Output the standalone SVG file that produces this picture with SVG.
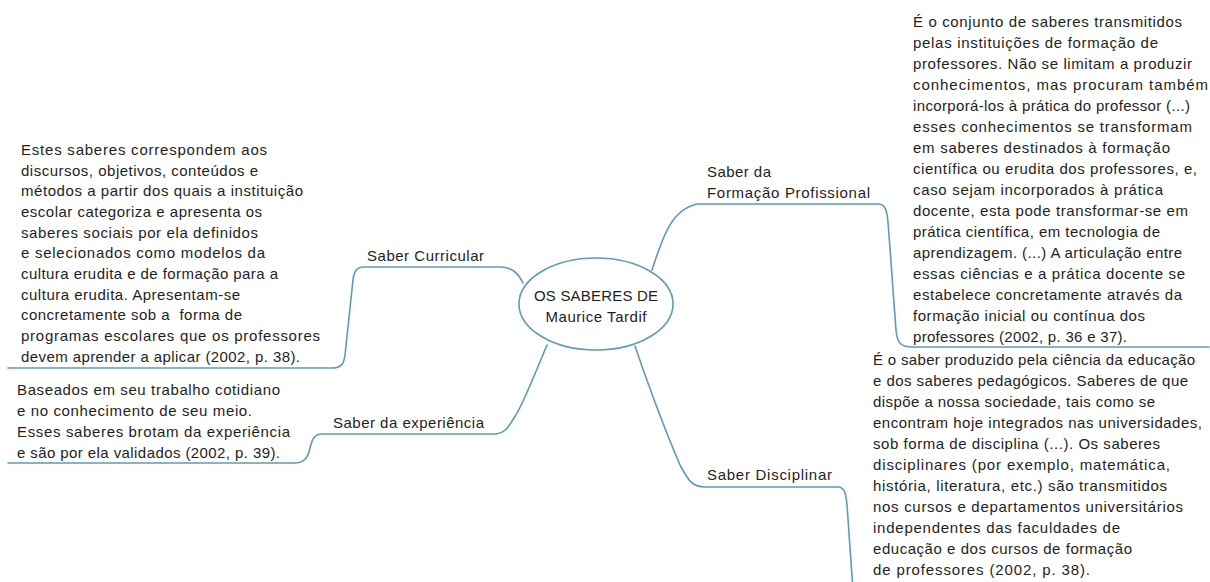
<svg xmlns="http://www.w3.org/2000/svg" width="1210" height="582" viewBox="0 0 1210 582">
<style>
  text { font-family: "Liberation Sans", Arial, sans-serif; font-size: 15px; fill: #1e1e1e; }
  .c { text-anchor: middle; }
  .link { fill: none; stroke: #5e9bb6; stroke-width: 1.6; stroke-linecap: round; }
  .hub { fill: #ffffff; stroke: #5e9bb6; stroke-width: 1.6; }
</style>
<rect width="1210" height="582" fill="#ffffff"/>
<g id="connectors">
  <path class="link" d="M 523 283 C 518 273 512 267 500 267 H 364 C 356 267 354 272 353 280 L 345 355 C 344 364 341 368 332 368 H 8"/>
  <path class="link" d="M 547 345 C 533 378 523 405 514 418 C 508 428 504 434 494 434 H 322 C 314 434 312 440 310 448 C 308 458 304 463 294 463 H 8"/>
  <path class="link" d="M 652 270 C 662 240 670 210 697 204 H 878 C 886 204 887 212 888 222 L 896 330 C 897 342 900 347 912 347 H 1209"/>
  <path class="link" d="M 635 346 C 650 390 665 430 680 465 C 688 480 692 487 705 487 H 838 C 845 487 846 495 847 505 L 853 590"/>
</g>
<g id="hub">
  <ellipse class="hub" cx="596" cy="304" rx="77" ry="46"/>
  <text class="c" x="596" y="301" textLength="124" lengthAdjust="spacing">OS SABERES DE</text>
  <text class="c" x="596" y="322" textLength="101" lengthAdjust="spacing">Maurice Tardif</text>
</g>
<g id="saber-curricular">
  <text x="367" y="261" textLength="117" lengthAdjust="spacing">Saber Curricular</text>
  <g id="curricular-desc">
    <text x="21" y="155" textLength="246" lengthAdjust="spacing">Estes saberes correspondem aos</text>
    <text x="21" y="176" textLength="237" lengthAdjust="spacing">discursos, objetivos, conteúdos e</text>
    <text x="21" y="196" textLength="282" lengthAdjust="spacing">métodos a partir dos quais a instituição</text>
    <text x="21" y="217" textLength="241" lengthAdjust="spacing">escolar categoriza e apresenta os</text>
    <text x="21" y="238" textLength="237" lengthAdjust="spacing">saberes sociais por ela definidos</text>
    <text x="21" y="258" textLength="244" lengthAdjust="spacing">e selecionados como modelos da</text>
    <text x="21" y="279" textLength="257" lengthAdjust="spacing">cultura erudita e de formação para a</text>
    <text x="21" y="300" textLength="219" lengthAdjust="spacing">cultura erudita. Apresentam-se</text>
    <text x="21" y="320" textLength="221" lengthAdjust="spacing" xml:space="preserve">concretamente sob a  forma de</text>
    <text x="21" y="341" textLength="299" lengthAdjust="spacing">programas escolares que os professores</text>
    <text x="21" y="362" textLength="279" lengthAdjust="spacing">devem aprender a aplicar (2002, p. 38).</text>
  </g>
</g>
<g id="saber-experiencia">
  <text x="333" y="428" textLength="151" lengthAdjust="spacing">Saber da experiência</text>
  <g id="experiencia-desc">
    <text x="17" y="395" textLength="263" lengthAdjust="spacing">Baseados em seu trabalho cotidiano</text>
    <text x="17" y="416" textLength="235" lengthAdjust="spacing">e no conhecimento de seu meio.</text>
    <text x="17" y="437" textLength="273" lengthAdjust="spacing">Esses saberes brotam da experiência</text>
    <text x="17" y="458" textLength="263" lengthAdjust="spacing">e são por ela validados (2002, p. 39).</text>
  </g>
</g>
<g id="saber-formacao">
  <text x="707" y="177" textLength="64" lengthAdjust="spacing">Saber da</text>
  <text x="707" y="198" textLength="163" lengthAdjust="spacing">Formação Profissional</text>
  <g id="formacao-desc">
    <text x="913" y="27" textLength="269" lengthAdjust="spacing">É o conjunto de saberes transmitidos</text>
    <text x="913" y="48" textLength="245" lengthAdjust="spacing">pelas instituições de formação de</text>
    <text x="913" y="69" textLength="279" lengthAdjust="spacing">professores. Não se limitam a produzir</text>
    <text x="913" y="90" textLength="295" lengthAdjust="spacing">conhecimentos, mas procuram também</text>
    <text x="913" y="111" textLength="277" lengthAdjust="spacing">incorporá-los à prática do professor (...)</text>
    <text x="913" y="132" textLength="279" lengthAdjust="spacing">esses conhecimentos se transformam</text>
    <text x="913" y="153" textLength="257" lengthAdjust="spacing">em saberes destinados à formação</text>
    <text x="913" y="174" textLength="284" lengthAdjust="spacing">científica ou erudita dos professores, e,</text>
    <text x="913" y="195" textLength="250" lengthAdjust="spacing">caso sejam incorporados à prática</text>
    <text x="913" y="216" textLength="275" lengthAdjust="spacing">docente, esta pode transformar-se em</text>
    <text x="913" y="237" textLength="247" lengthAdjust="spacing">prática científica, em tecnologia de</text>
    <text x="913" y="258" textLength="269" lengthAdjust="spacing">aprendizagem. (...) A articulação entre</text>
    <text x="913" y="279" textLength="272" lengthAdjust="spacing">essas ciências e a prática docente se</text>
    <text x="913" y="300" textLength="269" lengthAdjust="spacing">estabelece concretamente através da</text>
    <text x="913" y="321" textLength="232" lengthAdjust="spacing">formação inicial ou contínua dos</text>
    <text x="913" y="342" textLength="214" lengthAdjust="spacing">professores (2002, p. 36 e 37).</text>
  </g>
</g>
<g id="saber-disciplinar">
  <text x="707" y="480" textLength="125" lengthAdjust="spacing">Saber Disciplinar</text>
  <g id="disciplinar-desc">
    <text x="873" y="365" textLength="322" lengthAdjust="spacing">É o saber produzido pela ciência da educação</text>
    <text x="873" y="386" textLength="315" lengthAdjust="spacing">e dos saberes pedagógicos. Saberes de que</text>
    <text x="873" y="407" textLength="282" lengthAdjust="spacing">dispõe a nossa sociedade, tais como se</text>
    <text x="873" y="428" textLength="329" lengthAdjust="spacing">encontram hoje integrados nas universidades,</text>
    <text x="873" y="449" textLength="287" lengthAdjust="spacing">sob forma de disciplina (...). Os saberes</text>
    <text x="873" y="470" textLength="297" lengthAdjust="spacing">disciplinares (por exemplo, matemática,</text>
    <text x="873" y="491" textLength="294" lengthAdjust="spacing">história, literatura, etc.) são transmitidos</text>
    <text x="873" y="512" textLength="310" lengthAdjust="spacing">nos cursos e departamentos universitários</text>
    <text x="873" y="533" textLength="247" lengthAdjust="spacing">independentes das faculdades de</text>
    <text x="873" y="554" textLength="259" lengthAdjust="spacing">educação e dos cursos de formação</text>
    <text x="873" y="575" textLength="217" lengthAdjust="spacing">de professores (2002, p. 38).</text>
  </g>
</g>
</svg>
